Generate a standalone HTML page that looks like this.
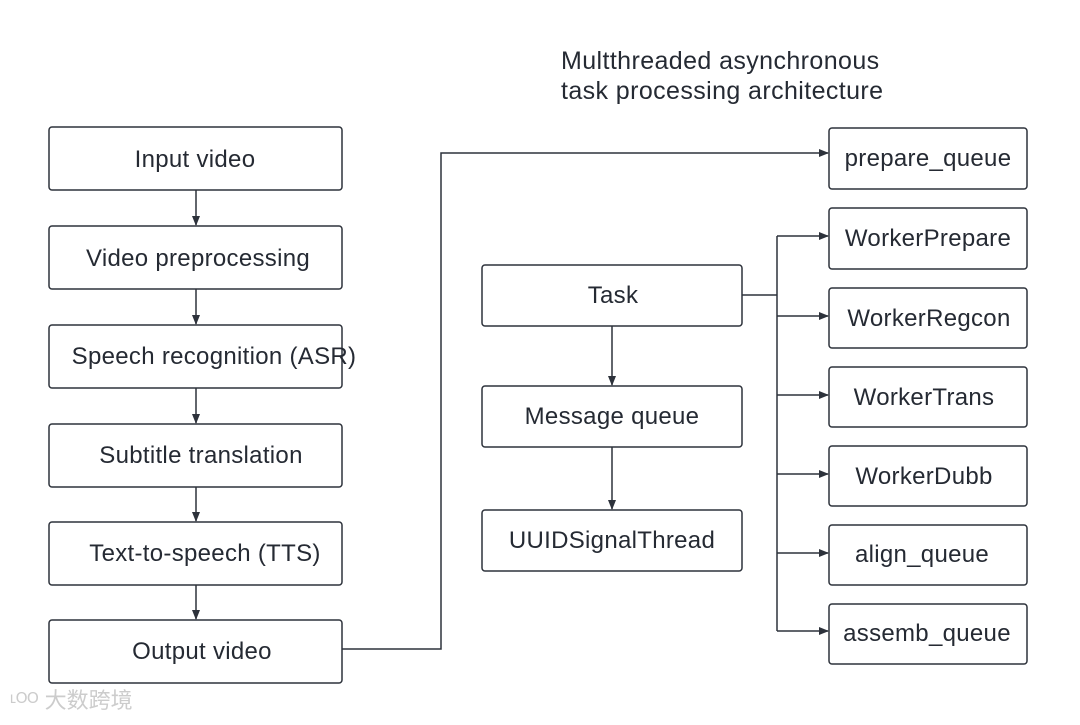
<!DOCTYPE html>
<html><head><meta charset="utf-8"><style>
html,body{margin:0;padding:0;background:#fff;}
text{font-family:"Liberation Sans","DejaVu Sans",sans-serif;fill:#252a33;}
</style></head><body>
<svg width="1080" height="720" viewBox="0 0 1080 720" xmlns="http://www.w3.org/2000/svg">
<defs><marker id="a" markerWidth="10" markerHeight="8" refX="9" refY="4" orient="auto" markerUnits="userSpaceOnUse"><path d="M0,0 L10,4 L0,8 z" fill="#2d323b"/></marker></defs>
<g fill="none" stroke="#2d323b" stroke-width="1.5">
<rect x="49" y="127" width="293" height="63" rx="3"/>
<rect x="49" y="226" width="293" height="63" rx="3"/>
<rect x="49" y="325" width="293" height="63" rx="3"/>
<rect x="49" y="424" width="293" height="63" rx="3"/>
<rect x="49" y="522" width="293" height="63" rx="3"/>
<rect x="49" y="620" width="293" height="63" rx="3"/>
<rect x="482" y="265" width="260" height="61" rx="3"/>
<rect x="482" y="386" width="260" height="61" rx="3"/>
<rect x="482" y="510" width="260" height="61" rx="3"/>
<rect x="829" y="128" width="198" height="61" rx="3"/>
<rect x="829" y="208" width="198" height="61" rx="3"/>
<rect x="829" y="288" width="198" height="60" rx="3"/>
<rect x="829" y="367" width="198" height="60" rx="3"/>
<rect x="829" y="446" width="198" height="60" rx="3"/>
<rect x="829" y="525" width="198" height="60" rx="3"/>
<rect x="829" y="604" width="198" height="60" rx="3"/>
<line x1="196" y1="190" x2="196" y2="225" marker-end="url(#a)"/>
<line x1="196" y1="289" x2="196" y2="324" marker-end="url(#a)"/>
<line x1="196" y1="388" x2="196" y2="423" marker-end="url(#a)"/>
<line x1="196" y1="487" x2="196" y2="521" marker-end="url(#a)"/>
<line x1="196" y1="585" x2="196" y2="619" marker-end="url(#a)"/>
<line x1="612" y1="326" x2="612" y2="385" marker-end="url(#a)"/>
<line x1="612" y1="447" x2="612" y2="509" marker-end="url(#a)"/>
<polyline points="342,649 441,649 441,153 828,153" marker-end="url(#a)"/>
<line x1="742" y1="295" x2="777" y2="295"/>
<line x1="777" y1="236" x2="777" y2="631"/>
<line x1="777" y1="236" x2="828" y2="236" marker-end="url(#a)"/>
<line x1="777" y1="316" x2="828" y2="316" marker-end="url(#a)"/>
<line x1="777" y1="395" x2="828" y2="395" marker-end="url(#a)"/>
<line x1="777" y1="474" x2="828" y2="474" marker-end="url(#a)"/>
<line x1="777" y1="553" x2="828" y2="553" marker-end="url(#a)"/>
<line x1="777" y1="631" x2="828" y2="631" marker-end="url(#a)"/>
</g>
<g font-size="24" text-anchor="middle" letter-spacing="0.3">
<text x="195" y="167">Input video</text>
<text x="198" y="266">Video preprocessing</text>
<text x="214" y="364">Speech recognition (ASR)</text>
<text x="201" y="463">Subtitle translation</text>
<text x="205" y="561">Text-to-speech (TTS)</text>
<text x="202" y="659">Output video</text>
<text x="613" y="303">Task</text>
<text x="612" y="424">Message queue</text>
<text x="612" y="548">UUIDSignalThread</text>
<text x="928" y="166">prepare_queue</text>
<text x="928" y="246">WorkerPrepare</text>
<text x="929" y="326">WorkerRegcon</text>
<text x="924" y="405">WorkerTrans</text>
<text x="924" y="484">WorkerDubb</text>
<text x="922" y="562">align_queue</text>
<text x="927" y="641">assemb_queue</text>
</g>
<text x="561" y="69" font-size="25" letter-spacing="0.4">Multthreaded asynchronous</text>
<text x="561" y="99" font-size="25" letter-spacing="0.4">task processing architecture</text>
<text x="10" y="708" font-size="22" style="fill:#ccc" font-family="Liberation Sans, Noto Sans CJK SC, sans-serif">ᶫᴼᴼ 大数跨境</text>
</svg>
</body></html>
